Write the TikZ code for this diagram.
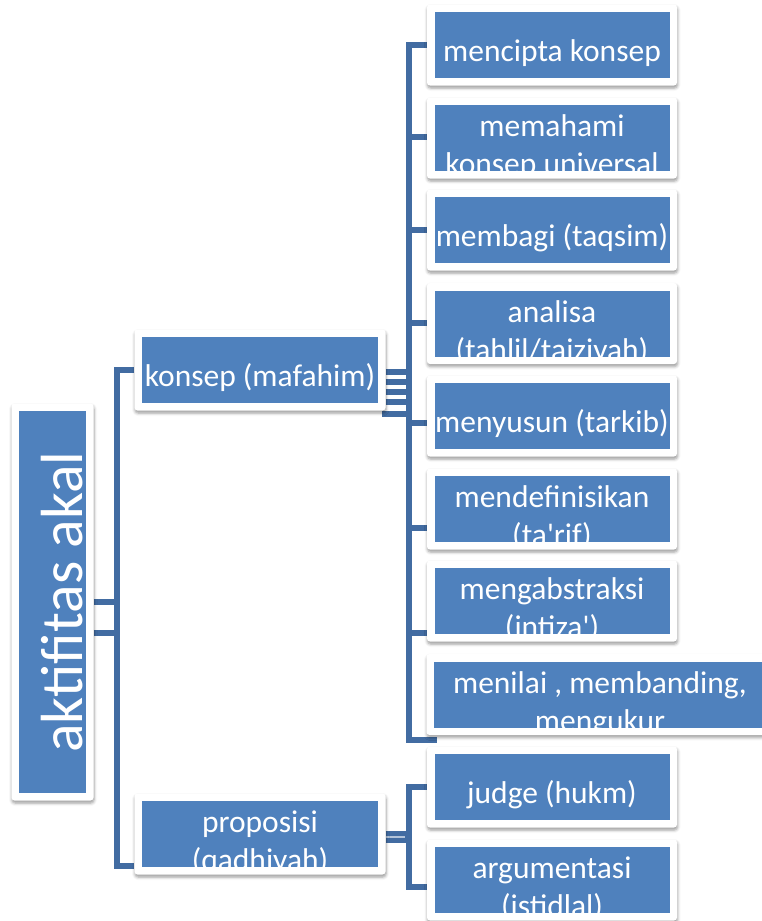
\documentclass[tikz,border=0pt]{standalone}
\usepackage{fontspec}
\setmainfont{Carlito}
\usetikzlibrary{shadows.blur}
\pgfdeclarelayer{background}
\pgfsetlayers{background,main}
\definecolor{boxblue}{RGB}{79,129,189}
\definecolor{linecol}{RGB}{66,108,162}
\tikzset{
  frame/.style={fill=white, rounded corners=3pt, inner sep=0pt,
    blur shadow={shadow xshift=0.5pt, shadow yshift=-2.5pt, shadow blur radius=3pt, shadow opacity=40}},
  bluebox/.style={fill=boxblue, inner sep=0pt},
  lbl/.style={text=white, align=center, inner sep=0pt, font=\fontsize{31.5}{38}\selectfont},
  conn/.style={draw=linecol, line width=5.5pt},
}
\newcommand{\tstr}{\rule{0pt}{30pt}}
\newcommand{\skbox}[6]{%
  \node[frame, minimum width=#4pt+15pt, minimum height=81pt] (#1) at (#2,#3) {};
  \node[bluebox, minimum width=#4pt, minimum height=66pt] (#1b) at (#2,#3) {};
  \begin{scope}
    \clip (#1b.south west) rectangle (#1b.north east);
    \node[lbl, anchor=north] (#1t) at (#2,{#3+#5}) {\tstr{}#6};
  \end{scope}}
\begin{document}
\begin{tikzpicture}[x=1pt, y=-1pt]
\useasboundingbox (0,0) rectangle (762,921);
% root
\node[frame, minimum width=82pt, minimum height=397pt] (root) at (52.5,602) {};
\node[bluebox, minimum width=67pt, minimum height=382pt] (rootb) at (52.5,602) {};
\node[text=white, rotate=90, anchor=base, inner sep=0pt, font=\fontsize{59.5}{70}\selectfont] (roott) at (82,602) {aktifitas akal};
% level 1
\skbox{kon}{260}{370}{236}{-14}{konsep (mafahim)}
\skbox{prop}{260}{834}{236}{-31.5}{proposisi\\(qadhiyah)}
% level 2
\skbox{c1}{552}{45}{235}{-14}{mencipta konsep}
\skbox{c2}{552}{138}{235}{-31.5}{memahami\\konsep universal}
\skbox{c3}{552}{230}{235}{-14}{membagi (taqsim)}
\skbox{c4}{552}{323.5}{235}{-31.5}{analisa\\(tahlil/tajziyah)}
\skbox{c5}{552}{416}{235}{-14}{menyusun (tarkib)}
\skbox{c6}{552}{509}{235}{-31.5}{mendefinisikan\\(ta\textquotesingle rif)}
\skbox{c7}{552}{601}{235}{-31.5}{mengabstraksi\\(intiza\textquotesingle)}
\skbox{c8}{600}{694.5}{332}{-31.5}{menilai , membanding,\\mengukur}
\skbox{j1}{552}{787}{235}{-14}{judge (hukm)}
\skbox{j2}{552}{880}{235}{-31.5}{argumentasi\\(istidlal)}
% connectors
\begin{pgfonlayer}{background}
\coordinate (rb1) at (117,370);
\coordinate (rb2) at (117,866);
\coordinate (r2) at (93.5,633);
\draw[conn] (kon.west) -- (rb1) -- (rb2) -- (prop.west |- rb2);
\draw[conn] (root.east) -- (rb1 |- root.east);
\draw[conn] (r2) -- (rb1 |- r2);
\coordinate (kb1) at (409,45);
\coordinate (kb8) at (409,740);
\draw[conn] (c1.west) -- (kb1) -- (kb8) -- ++(28,0);
\foreach \n/\yy in {c2/137, c3/230, c4/323, c5/423, c6/528, c7/633}
  \draw[conn] (kb1 |- 0,\yy) -- (\n.west |- 0,\yy);
\foreach \yy in {372,382,392,402}
  \draw[conn] (kon.east |- 0,\yy) -- (kb1 |- 0,\yy);
\coordinate (k5) at (382,414);
\draw[conn] (k5) -- (kb1 |- k5);
\coordinate (pb1) at (409,787);
\coordinate (pb2) at (409,887);
\draw[conn] (j1.west) -- (pb1) -- (pb2) -- (j2.west |- pb2);
\draw[conn, line width=12.5pt] (prop.east |- 0,837) -- (pb1 |- 0,837);
\draw[draw=white!60!linecol, line width=1.5pt] (prop.east |- 0,837) -- (405,837);
\end{pgfonlayer}
\end{tikzpicture}
\end{document}
